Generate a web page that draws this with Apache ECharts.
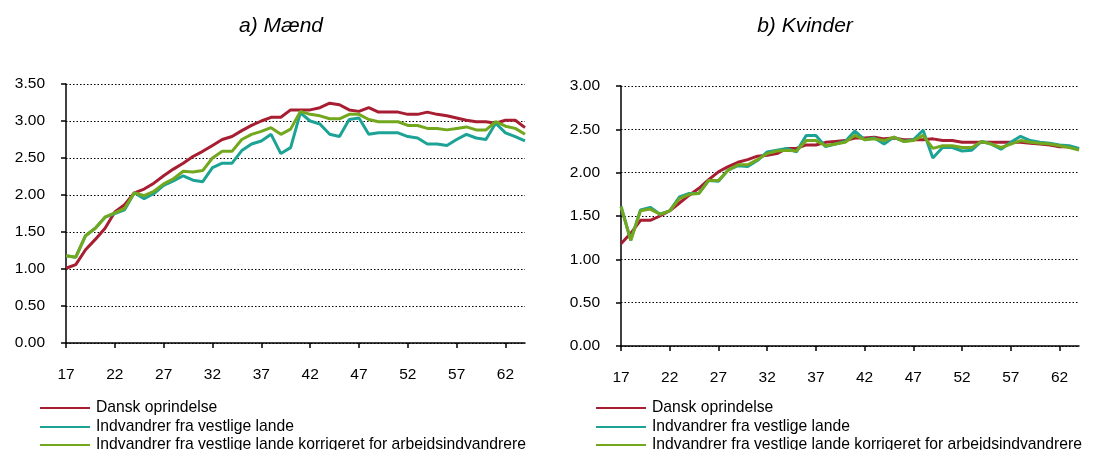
<!DOCTYPE html>
<html>
<head>
<meta charset="utf-8">
<script src="https://cdn.jsdelivr.net/npm/echarts@6/dist/echarts.min.js"></script>
<style>
  html, body { margin: 0; padding: 0; background: #fff; }
  #chart { width: 1093px; height: 450px; }
</style>
</head>
<body>
<div id="chart"></div>
<script>
const ages = ['17','18','19','20','21','22','23','24','25','26','27','28','29','30','31','32',
  '33','34','35','36','37','38','39','40','41','42','43','44','45','46','47','48',
  '49','50','51','52','53','54','55','56','57','58','59','60','61','62','63','64']

const seriesNames = ['Dansk oprindelse', 'Indvandrer fra vestlige lande',
  'Indvandrer fra vestlige lande korrigeret for arbejdsindvandrere']

// a) Mænd
const maendDansk = [1.01,1.06,1.26,1.40,1.55,1.77,1.87,2.03,2.08,2.16,2.26,2.35,2.43,2.52,2.59,2.67,
  2.75,2.79,2.87,2.94,3.00,3.05,3.05,3.15,3.15,3.15,3.18,3.24,3.22,3.15,3.13,3.18,
  3.12,3.12,3.12,3.09,3.09,3.12,3.09,3.07,3.04,3.01,2.99,2.99,2.97,3.01,3.01,2.91]
const maendVestlig = [1.18,1.16,1.45,1.55,1.70,1.75,1.80,2.03,1.95,2.02,2.13,2.19,2.26,2.20,2.18,2.37,
  2.43,2.43,2.60,2.69,2.73,2.82,2.56,2.64,3.11,3.00,2.96,2.82,2.79,3.02,3.04,2.82,
  2.84,2.84,2.84,2.79,2.77,2.69,2.69,2.67,2.75,2.82,2.77,2.75,2.97,2.84,2.79,2.73]
const maendKorr = [1.18,1.16,1.45,1.55,1.70,1.76,1.82,2.03,1.99,2.05,2.15,2.22,2.32,2.31,2.33,2.50,
  2.59,2.59,2.75,2.82,2.86,2.91,2.82,2.89,3.13,3.09,3.07,3.03,3.03,3.09,3.09,3.02,
  2.99,2.99,2.99,2.94,2.94,2.90,2.90,2.88,2.90,2.92,2.88,2.88,2.99,2.93,2.90,2.82]

// b) Kvinder
const kvinderDansk = [1.18,1.30,1.45,1.45,1.50,1.56,1.65,1.74,1.82,1.92,2.01,2.07,2.12,2.15,2.19,2.20,
  2.22,2.28,2.28,2.32,2.32,2.35,2.36,2.37,2.40,2.40,2.41,2.39,2.40,2.38,2.38,2.38,
  2.39,2.37,2.37,2.35,2.35,2.35,2.35,2.35,2.35,2.35,2.34,2.33,2.32,2.30,2.30,2.27]
const kvinderVestlig = [1.61,1.22,1.57,1.60,1.52,1.56,1.72,1.76,1.76,1.91,1.90,2.03,2.08,2.07,2.14,2.24,
  2.26,2.28,2.24,2.43,2.43,2.30,2.33,2.36,2.48,2.38,2.40,2.33,2.41,2.36,2.38,2.49,
  2.17,2.29,2.29,2.25,2.26,2.36,2.33,2.27,2.35,2.42,2.37,2.35,2.34,2.32,2.31,2.28]
const kvinderKorr = [1.61,1.22,1.56,1.58,1.52,1.56,1.70,1.75,1.76,1.91,1.91,2.03,2.09,2.09,2.15,2.22,
  2.25,2.26,2.25,2.37,2.37,2.31,2.33,2.35,2.43,2.38,2.39,2.37,2.41,2.36,2.37,2.43,
  2.28,2.31,2.31,2.29,2.29,2.36,2.33,2.29,2.33,2.37,2.35,2.34,2.33,2.31,2.29,2.26]

const colors = ['#A71D31', '#1DA396', '#73A81E']
const font = 'Liberation Sans, Arial, sans-serif'

function xAxisFor(gridIndex) {
  return {
    type: 'category', gridIndex, data: ages, boundaryGap: false,
    axisLine: { lineStyle: { color: '#000', width: 1.5 } },
    axisTick: { interval: 4, length: 5, lineStyle: { color: '#000', width: 1.5 } },
    axisLabel: { interval: 4, margin: 24, color: '#000', fontSize: 15.5, fontFamily: font },
    splitLine: { show: false }
  }
}

function yAxisFor(gridIndex, max) {
  return {
    type: 'value', gridIndex, min: 0, max, interval: 0.5,
    axisLine: { show: true, lineStyle: { color: '#000', width: 1.5 } },
    axisTick: { show: true, length: 5, lineStyle: { color: '#000', width: 1.5 } },
    axisLabel: { margin: 21, color: '#000', fontSize: 15.5, fontFamily: font,
      formatter: v => v.toFixed(2) },
    splitLine: { show: true, lineStyle: { color: '#000', type: [1.5, 2], width: 1 } }
  }
}

function lineSeries(name, data, idx, axisIdx) {
  return {
    name, type: 'line', data, xAxisIndex: axisIdx, yAxisIndex: axisIdx,
    symbol: 'none', smooth: false, animation: false,
    lineStyle: { color: colors[idx], width: 3 },
    itemStyle: { color: colors[idx] }
  }
}

// one legend per row, so the three rows stack like the original
function legendRow(name, left, top) {
  return {
    left, top, itemWidth: 50, itemHeight: 2, icon: 'rect',
    data: [name], selectedMode: false, padding: 0,
    textStyle: { color: '#000', fontSize: 15.7, fontFamily: font, padding: [0, 0, 0, 1] }
  }
}

const chart = echarts.init(document.getElementById('chart'))
chart.setOption({
  animation: false,
  color: colors,
  title: [
    { text: 'a) Mænd', left: 276, top: 11, textAlign: 'center',
      textStyle: { fontSize: 21, fontStyle: 'italic', fontWeight: 'normal', color: '#000', fontFamily: font } },
    { text: 'b) Kvinder', left: 800, top: 11, textAlign: 'center',
      textStyle: { fontSize: 21, fontStyle: 'italic', fontWeight: 'normal', color: '#000', fontFamily: font } }
  ],
  legend: [
    legendRow(seriesNames[0], 40, 400),
    legendRow(seriesNames[1], 40, 419),
    legendRow(seriesNames[2], 40, 437),
    legendRow(seriesNames[0], 596, 400),
    legendRow(seriesNames[1], 596, 419),
    legendRow(seriesNames[2], 596, 437)
  ],
  grid: [
    { left: 66, top: 84, width: 459, height: 259 },
    { left: 621, top: 86, width: 458, height: 260 }
  ],
  xAxis: [xAxisFor(0), xAxisFor(1)],
  yAxis: [yAxisFor(0, 3.5), yAxisFor(1, 3)],
  series: [
    lineSeries(seriesNames[0], maendDansk, 0, 0),
    lineSeries(seriesNames[1], maendVestlig, 1, 0),
    lineSeries(seriesNames[2], maendKorr, 2, 0),
    lineSeries(seriesNames[0], kvinderDansk, 0, 1),
    lineSeries(seriesNames[1], kvinderVestlig, 1, 1),
    lineSeries(seriesNames[2], kvinderKorr, 2, 1)
  ]
})
</script>
</body>
</html>
